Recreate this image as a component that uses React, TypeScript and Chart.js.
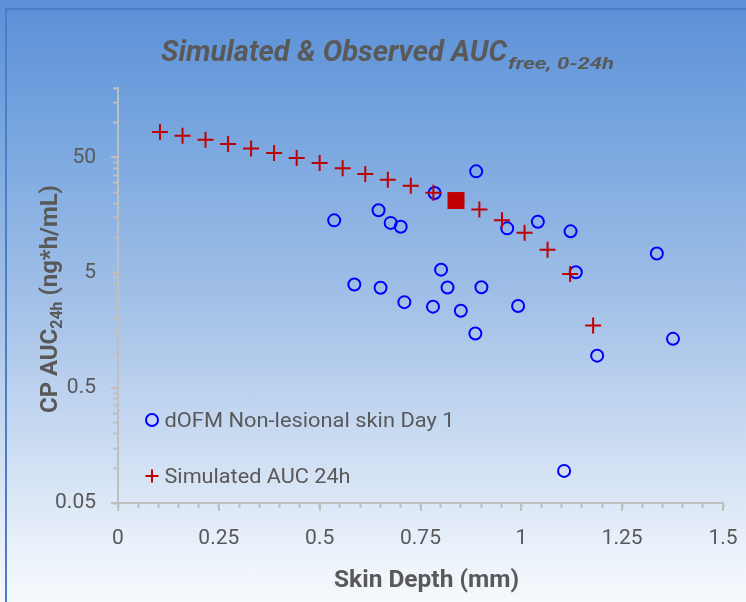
import React, { useEffect, useRef } from "react";
import { Chart, registerables } from "chart.js";

Chart.register(...registerables);

// ---- data ----
const OBS_DEPTH = [
  0.536, 0.646, 0.676, 0.701, 0.888, 0.785, 0.801, 0.586, 0.651, 0.817, 0.901, 0.71,
  0.781, 0.85, 0.992, 0.886, 0.965, 1.041, 1.122, 1.135, 1.336, 1.376, 1.188, 1.106,
];
const OBS_AUC = [
  14.2, 17.4, 13.5, 12.5, 37.8, 24.5, 5.3, 3.94, 3.69, 3.71, 3.73, 2.77,
  2.53, 2.33, 2.56, 1.48, 12.1, 13.8, 11.4, 5.04, 7.32, 1.33, 0.95, 0.095,
];
const SIM_DEPTH = [
  0.104, 0.16, 0.217, 0.273, 0.33, 0.387, 0.443, 0.5, 0.557, 0.613,
  0.669, 0.726, 0.782, 0.839, 0.896, 0.952, 1.008, 1.065, 1.121, 1.178,
];
const SIM_AUC = [
  83, 77, 71, 65.3, 59.8, 54.6, 49.4, 44.7, 40.2, 35.9,
  32.0, 28.3, 24.6, 21.1, 17.6, 14.2, 11.1, 7.9, 4.85, 1.74,
];
const HIGHLIGHT_DEPTH = [0.838];
const HIGHLIGHT_AUC = [21.1];

const X_MAJOR_TICKS = [0, 0.25, 0.5, 0.75, 1, 1.25, 1.5];
const X_MINOR_PER_MAJOR = 5;
const Y_MAJOR_TICKS = [0.05, 0.5, 5, 50];
const Y_MIN = 0.05;
const Y_MAX = 200;

const LEGEND_LABELS = ["dOFM Non-lesional skin Day 1", "Simulated AUC 24h"];
const TITLE_MAIN = "Simulated & Observed AUC";
const TITLE_SUB = "free, 0-24h";
const X_TITLE = "Skin Depth (mm)";
const Y_TITLE_PARTS = ["CP AUC", "24h", " (ng*h/mL)"];

// ---- styles ----
const FONT = "Roboto, 'Liberation Sans', sans-serif";
const TEXT = "#595959";
const AXIS = "#bfbfbf";
const BLUE = "#0000ff";
const RED = "#c00000";

function buildXTicks() {
  const out: number[] = [];
  for (let i = 0; i < X_MAJOR_TICKS.length; i++) {
    out.push(X_MAJOR_TICKS[i]);
    if (i < X_MAJOR_TICKS.length - 1) {
      const step = (X_MAJOR_TICKS[i + 1] - X_MAJOR_TICKS[i]) / X_MINOR_PER_MAJOR;
      for (let k = 1; k < X_MINOR_PER_MAJOR; k++) {
        out.push(Math.round((X_MAJOR_TICKS[i] + k * step) * 1000) / 1000);
      }
    }
  }
  return out;
}

function buildYTicks() {
  const out: number[] = [];
  Y_MAJOR_TICKS.forEach((m) => {
    for (let k = 1; k <= 9; k++) {
      const v = Math.round(m * k * 1e6) / 1e6;
      if (v <= Y_MAX + 1e-9) out.push(v);
    }
  });
  return out;
}

function isMajor(list: number[], v: number) {
  return list.find((m) => Math.abs(v - m) <= Math.max(1e-9, Math.abs(m) * 1e-6));
}

function setFont(ctx: CanvasRenderingContext2D, size: number, weight: string, style: string) {
  ctx.font = `${style} ${weight} ${size}px ${FONT}`;
}

const decorPlugin = {
  id: "decor",
  afterDraw(chart: any) {
    const ctx: CanvasRenderingContext2D = chart.ctx;
    const xs = chart.scales.x;
    const ys = chart.scales.y;
    const area = chart.chartArea;
    ctx.save();

    // longer major tick marks
    ctx.strokeStyle = AXIS;
    ctx.lineWidth = 2;
    X_MAJOR_TICKS.forEach((v) => {
      const px = Math.round(xs.getPixelForValue(v));
      ctx.beginPath();
      ctx.moveTo(px, area.bottom);
      ctx.lineTo(px, area.bottom + 8);
      ctx.stroke();
    });
    Y_MAJOR_TICKS.forEach((v) => {
      const py = Math.round(ys.getPixelForValue(v));
      ctx.beginPath();
      ctx.moveTo(area.left, py);
      ctx.lineTo(area.left - 7, py);
      ctx.stroke();
    });

    ctx.fillStyle = TEXT;
    ctx.textBaseline = "alphabetic";
    ctx.textAlign = "left";

    // title with subscript
    setFont(ctx, 29.5, "bold", "italic");
    const tw = ctx.measureText(TITLE_MAIN).width;
    ctx.save();
    ctx.translate(161, 61);
    ctx.scale(346 / tw, 1);
    ctx.fillText(TITLE_MAIN, 0, 0);
    ctx.restore();
    setFont(ctx, 17, "bold", "italic");
    const sw = ctx.measureText(TITLE_SUB).width;
    ctx.save();
    ctx.translate(508, 69);
    ctx.scale(106 / sw, 1);
    ctx.fillText(TITLE_SUB, 0, 0);
    ctx.restore();

    // x axis title
    setFont(ctx, 24, "bold", "normal");
    const xw = ctx.measureText(X_TITLE).width;
    ctx.save();
    ctx.translate(334, 587);
    ctx.scale(185 / xw, 1);
    ctx.fillText(X_TITLE, 0, 0);
    ctx.restore();

    // y axis title (rotated, with subscript)
    const sizes = [24, 16, 24];
    const offs = [0, 4.5, 0];
    const widths = Y_TITLE_PARTS.map((t, i) => {
      setFont(ctx, sizes[i], "bold", "normal");
      return ctx.measureText(t).width;
    });
    const total = widths.reduce((a, b) => a + b, 0);
    ctx.save();
    ctx.translate(57, 413);
    ctx.rotate(-Math.PI / 2);
    ctx.scale(228 / total, 1);
    let cx = 0;
    Y_TITLE_PARTS.forEach((t, i) => {
      setFont(ctx, sizes[i], "bold", "normal");
      ctx.fillText(t, cx, offs[i]);
      cx += widths[i];
    });
    ctx.restore();

    // legend
    const rows = [
      { y: 420, base: 427, target: 290 },
      { y: 476, base: 483, target: 186 },
    ];
    ctx.strokeStyle = BLUE;
    ctx.lineWidth = 2;
    ctx.beginPath();
    ctx.arc(152, rows[0].y, 6, 0, Math.PI * 2);
    ctx.stroke();
    ctx.strokeStyle = RED;
    ctx.beginPath();
    ctx.moveTo(145.5, rows[1].y);
    ctx.lineTo(158.5, rows[1].y);
    ctx.moveTo(152, rows[1].y - 6.5);
    ctx.lineTo(152, rows[1].y + 6.5);
    ctx.stroke();
    ctx.fillStyle = TEXT;
    LEGEND_LABELS.forEach((label, i) => {
      setFont(ctx, 19.7, "normal", "normal");
      const w = ctx.measureText(label).width;
      ctx.save();
      ctx.translate(164.5, rows[i].base);
      ctx.scale(rows[i].target / w, 1);
      ctx.fillText(label, 0, 0);
      ctx.restore();
    });

    ctx.restore();
  },
};

export default function App() {
  const canvasRef = useRef<HTMLCanvasElement | null>(null);

  useEffect(() => {
    const canvas = canvasRef.current;
    if (!canvas) return;
    const xTicks = buildXTicks();
    const yTicks = buildYTicks();

    const chart = new Chart(canvas, {
      type: "scatter",
      data: {
        datasets: [
          {
            label: "highlight",
            data: HIGHLIGHT_DEPTH.map((x, i) => ({ x, y: HIGHLIGHT_AUC[i] })),
            pointStyle: "rect",
            pointRadius: 12,
            backgroundColor: RED,
            borderColor: RED,
            borderWidth: 0,
            order: 0,
          },
          {
            label: LEGEND_LABELS[1],
            data: SIM_DEPTH.map((x, i) => ({ x, y: SIM_AUC[i] })),
            pointStyle: "cross",
            pointRadius: 8,
            borderColor: RED,
            backgroundColor: RED,
            borderWidth: 2,
            order: 1,
          },
          {
            label: LEGEND_LABELS[0],
            data: OBS_DEPTH.map((x, i) => ({ x, y: OBS_AUC[i] })),
            pointStyle: "circle",
            pointRadius: 6,
            borderColor: BLUE,
            backgroundColor: "rgba(0,0,0,0)",
            borderWidth: 2,
            order: 2,
          },
        ],
      },
      options: {
        responsive: false,
        maintainAspectRatio: false,
        devicePixelRatio: 1,
        animation: false,
        events: [],
        layout: { padding: { left: 0, top: 88, right: 23, bottom: 0 } },
        plugins: {
          legend: { display: false },
          title: { display: false },
          tooltip: { enabled: false },
        },
        scales: {
          x: {
            type: "linear",
            min: 0,
            max: 1.5,
            afterFit: (s: any) => {
              s.height = 99;
              s.paddingLeft = 0;
              s.paddingRight = 0;
            },
            afterBuildTicks: (s: any) => {
              s.ticks = xTicks.map((v) => ({ value: v }));
            },
            ticks: {
              autoSkip: false,
              maxRotation: 0,
              padding: 18,
              color: TEXT,
              font: { family: FONT, size: 21 },
              callback: (v: any) => {
                const m = isMajor(X_MAJOR_TICKS, Number(v));
                return m === undefined ? "" : String(m);
              },
            },
            grid: {
              display: true,
              drawOnChartArea: false,
              drawTicks: true,
              tickLength: 5,
              tickWidth: 2,
              tickColor: AXIS,
            },
            border: { display: true, color: AXIS, width: 2 },
          },
          y: {
            type: "logarithmic",
            min: Y_MIN,
            max: Y_MAX,
            afterFit: (s: any) => {
              s.width = 118;
              s.paddingTop = 0;
              s.paddingBottom = 0;
            },
            afterBuildTicks: (s: any) => {
              s.ticks = yTicks.map((v) => ({ value: v }));
            },
            ticks: {
              autoSkip: false,
              padding: 17,
              color: TEXT,
              font: { family: FONT, size: 21 },
              callback: (v: any) => {
                const m = isMajor(Y_MAJOR_TICKS, Number(v));
                return m === undefined ? "" : String(m);
              },
            },
            grid: {
              display: true,
              drawOnChartArea: false,
              drawTicks: true,
              tickLength: 5,
              tickWidth: 2,
              tickColor: AXIS,
            },
            border: { display: true, color: AXIS, width: 2 },
          },
        },
      },
      plugins: [decorPlugin],
    } as any);

    return () => chart.destroy();
  }, []);

  return (
    <div
      style={{
        position: "fixed",
        left: 0,
        top: 0,
        width: 746,
        height: 602,
        overflow: "hidden",
        background:
          "linear-gradient(to bottom, #5b8fd7 0%, #6fa0dd 16%, #a2c0e7 50%, #edf3fb 93%, #f6f9fd 100%)",
      }}
    >
      <div
        style={{
          position: "absolute",
          left: 5,
          top: 8,
          right: -10,
          bottom: -10,
          borderLeft: "2px solid #4a7ec6",
          borderTop: "2px solid #4a7ec6",
        }}
      />
      <canvas
        ref={canvasRef}
        width={746}
        height={602}
        style={{ position: "absolute", left: 0, top: 0, width: 746, height: 602 }}
      />
    </div>
  );
}
